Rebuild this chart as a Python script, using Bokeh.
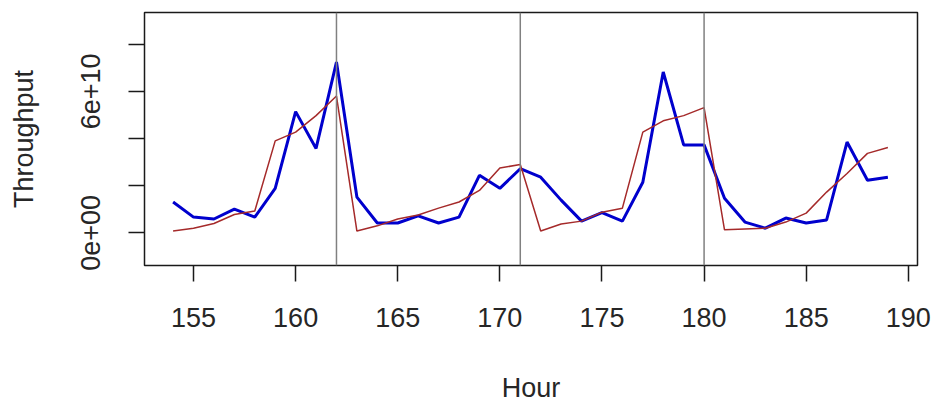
from bokeh.plotting import figure
from bokeh.models import Range1d, FixedTicker, CustomJSTickFormatter, Span, ColumnDataSource
from bokeh.embed import file_html
from bokeh.resources import INLINE

# Data (throughput in units of 1e10)
hours = list(range(154, 190))
actual = [1.31, 0.67, 0.59, 1.01, 0.67, 1.89, 5.14, 3.58, 7.24, 1.52, 0.42, 0.42,
          0.72, 0.42, 0.67, 2.44, 1.89, 2.72, 2.36, 1.39, 0.50, 0.86, 0.50, 2.15, 6.82,
          3.73, 3.73, 1.47, 0.46, 0.20, 0.63, 0.42, 0.55, 3.85, 2.23, 2.36]
forecast = [0.08, 0.20, 0.40, 0.78, 0.93, 3.90, 4.27, 4.97, 5.80, 0.08, 0.30, 0.59,
            0.76, 1.05, 1.31, 1.80, 2.75, 2.90, 0.08, 0.38, 0.50, 0.88, 1.05, 4.27, 4.75,
            4.97, 5.31, 0.13, 0.17, 0.20, 0.46, 0.84, 1.73, 2.52, 3.37, 3.62]
breaks = [162, 171, 180]
x_ticks = [155, 160, 165, 170, 175, 180, 185, 190]
y_ticks = [0, 2e10, 4e10, 6e10, 8e10]
y_tick_labels = ["0e+00", "", "", "6e+10", ""]
scale = 1e10

src = ColumnDataSource(dict(
    hour=hours,
    actual=[v * scale for v in actual],
    forecast=[v * scale for v in forecast],
))

FONT = "Liberation Sans"
FS = "27px"
TXT = "#262626"

p = figure(width=931, height=407, output_backend="svg", toolbar_location=None,
           x_range=Range1d(152.6, 190.45), y_range=Range1d(-1.38e10, 9.34e10),
           min_border_left=144, min_border_right=14, min_border_top=12, min_border_bottom=142)
p.xgrid.visible = False
p.ygrid.visible = False
p.outline_line_color = "#1a1a1a"
p.outline_line_width = 1.5
p.background_fill_color = "white"
p.border_fill_color = "white"

p.line("hour", "actual", source=src, color="#0000CD", line_width=3)
p.line("hour", "forecast", source=src, color="#A52A2A", line_width=1.5)

for b in breaks:
    p.add_layout(Span(location=b, dimension="height", line_color="#808080", line_width=1.5))

for ax in (p.xaxis[0], p.yaxis[0]):
    ax.axis_line_color = None
    ax.major_tick_line_color = "#1a1a1a"
    ax.major_tick_line_width = 1.5
    ax.major_tick_in = 0
    ax.major_tick_out = 16
    ax.minor_tick_line_color = None
    ax.major_label_text_font = FONT
    ax.major_label_text_font_size = FS
    ax.major_label_text_color = TXT
    ax.axis_label_text_font = FONT
    ax.axis_label_text_font_size = FS
    ax.axis_label_text_font_style = "normal"
    ax.axis_label_text_color = TXT

p.xaxis.ticker = FixedTicker(ticks=x_ticks)
p.xaxis.axis_label = "Hour"
p.xaxis.major_label_standoff = 26
p.xaxis.axis_label_standoff = 43

p.yaxis.ticker = FixedTicker(ticks=y_ticks)
p.yaxis.formatter = CustomJSTickFormatter(args=dict(tvals=y_ticks, tlabels=y_tick_labels), code="""
    for (let i = 0; i < tvals.length; i++) { if (Math.abs(tvals[i] - tick) < 1) return tlabels[i]; }
    return "";
""")
p.yaxis.major_label_orientation = "vertical"
p.yaxis.axis_label = "Throughput"
p.yaxis.major_label_standoff = 28
p.yaxis.axis_label_standoff = 40

open("out.html", "w").write(file_html(p, INLINE))
